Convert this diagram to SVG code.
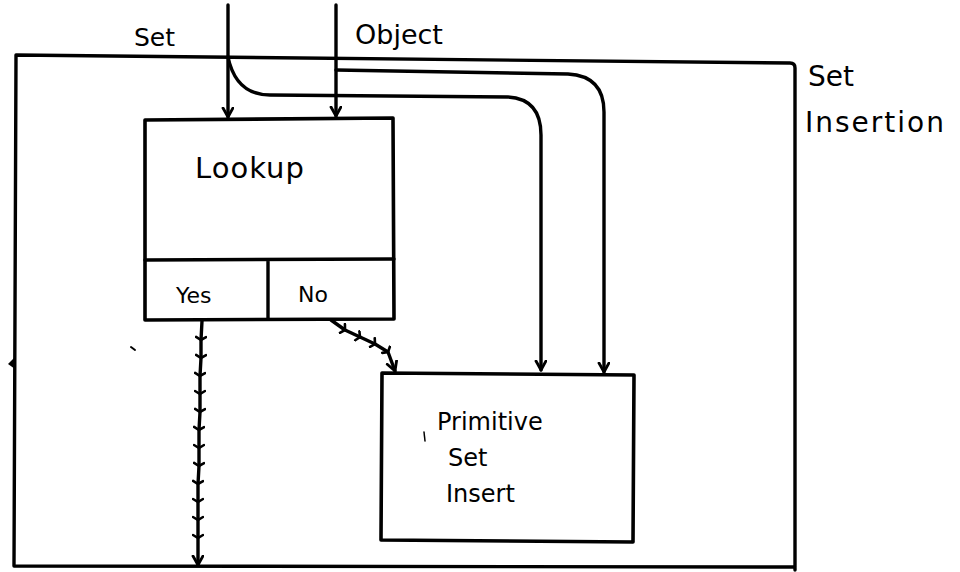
<svg xmlns="http://www.w3.org/2000/svg" width="960" height="572" viewBox="0 0 960 572">
<style>
.ln{fill:none;stroke:#000;stroke-width:3.4;stroke-linecap:round;stroke-linejoin:round}
.box{fill:#fff;stroke:#000;stroke-width:3.6;stroke-linejoin:round}
.t{font-family:"DejaVu Sans","Liberation Sans",sans-serif;fill:#000}
</style>
<defs>
<marker id="ah" markerWidth="14" markerHeight="14" refX="10" refY="6" orient="auto" markerUnits="userSpaceOnUse">
<path d="M1 1 L10 6 L1 11" fill="none" stroke="#000" stroke-width="2.8" stroke-linecap="round" stroke-linejoin="round"/>
</marker>
<marker id="tk" markerWidth="12" markerHeight="12" refX="6" refY="6" orient="auto" markerUnits="userSpaceOnUse">
<path d="M3 1 L6 6 L3 11" fill="none" stroke="#000" stroke-width="2.6" stroke-linecap="round"/>
</marker>
</defs>
<rect width="960" height="572" fill="#fff"/>
<g id="outer">
<path class="ln" d="M16 55 L790 63 Q795 63 795 68 L795 570 M16 55 L14 566 L795 567"/>
<path d="M15 357 L8 364 L15 369 Z" fill="#000"/>
<path class="ln" d="M131 347 L135 350" style="stroke-width:2"/>
<text class="t" x="808" y="86" font-size="28">Set</text>
<text class="t" x="805" y="132" font-size="28" letter-spacing="2">Insertion</text>
</g>
<g id="connectors">
<path class="ln" d="M228 5 L228 117" marker-end="url(#ah)"/>
<path class="ln" d="M336 5 L336 116" marker-end="url(#ah)"/>
<path class="ln" d="M228 57 Q236 95 270 95 L508 97 Q541 99 541 135 L541 370" marker-end="url(#ah)"/>
<path class="ln" d="M336 70 L568 74 Q604 76 604 112 L604 372" marker-end="url(#ah)"/>
<polyline class="ln" points="202,321 201,340 201,358 200,376 200,394 200,412 199,430 199,448 199,466 198,484 198,502 198,520 198,538 198,565" marker-mid="url(#tk)" marker-end="url(#ah)"/>
<polyline class="ln" points="331,320 345,330 360,337 375,344 388,352 395,371" marker-mid="url(#tk)" marker-end="url(#ah)"/>
</g>
<g id="lookup">
<path class="box" d="M145 120 L393 118 L394 319 L145 320 Z"/>
<path class="ln" d="M145 260 L394 259 M268 260 L268 319"/>
<text class="t" x="195" y="178" font-size="29" letter-spacing="1">Lookup</text>
<text class="t" x="176" y="303" font-size="22">Yes</text>
<text class="t" x="298" y="302" font-size="22">No</text>
</g>
<g id="primitive">
<path class="box" d="M382 373 L634 375 L633 542 L381 540 Z"/>
<text class="t" x="437" y="430" font-size="24">Primitive</text>
<text class="t" x="448" y="466" font-size="24">Set</text>
<text class="t" x="446" y="502" font-size="24">Insert</text>
<path class="ln" d="M424 432 L425 441" style="stroke-width:1.5"/>
</g>
<g id="labels">
<text class="t" x="134" y="46" font-size="25">Set</text>
<text class="t" x="355" y="44" font-size="27">Object</text>
</g>
</svg>
